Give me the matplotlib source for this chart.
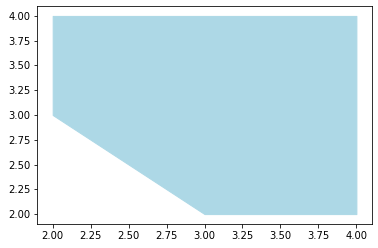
import matplotlib
matplotlib.use('Agg')
import matplotlib.pyplot as plt

x = [2, 3, 4]
y_low = [3, 2, 2]
y_high = [4, 4, 4]

fig = plt.figure(figsize=(378 / 72, 248 / 72), dpi=72)
ax = fig.add_axes([0.0992, 0.0968, 0.8838, 0.8790])
ax.fill_between(x, y_low, y_high, color='lightblue')
ax.tick_params(labelsize=10)

fig.savefig('out.png', dpi=72)
